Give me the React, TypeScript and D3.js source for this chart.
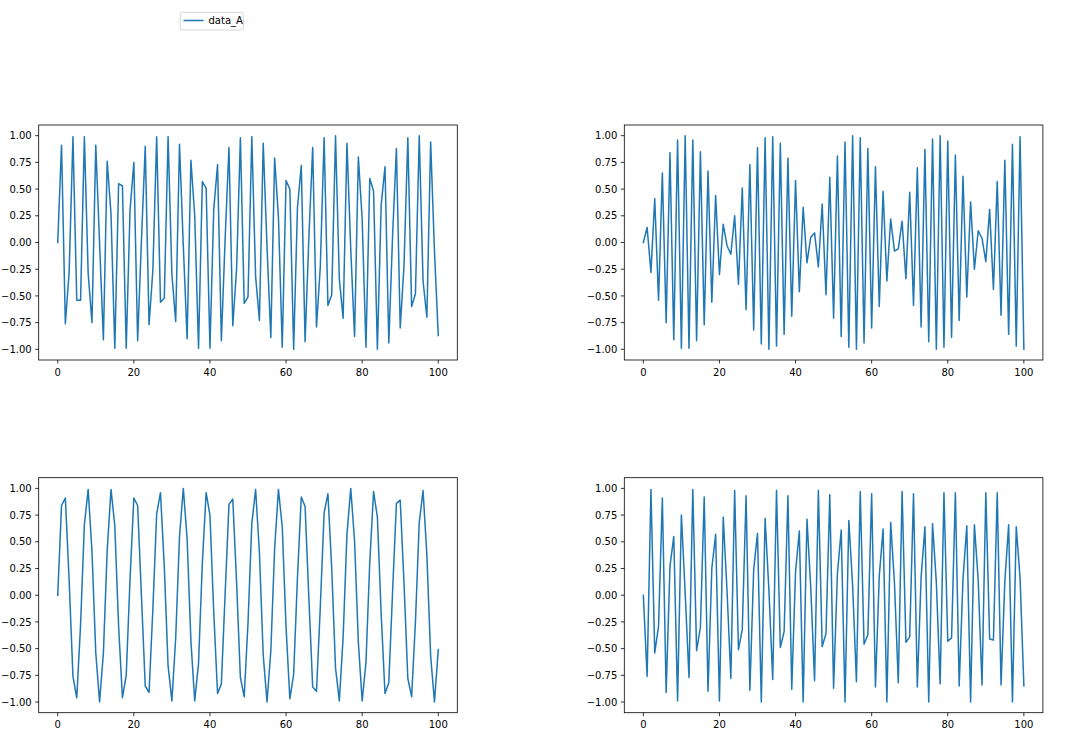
import React from "react";
import * as d3 from "d3";

// sin(2x), x = 0..100 (top-left)
const seriesA = [
  0.00, 0.91, -0.76, -0.28, 0.99, -0.54, -0.54, 0.99, -0.29, -0.75,
  0.91, -0.01, -0.91, 0.76, 0.27, -0.99, 0.55, 0.53, -0.99, 0.30,
  0.75, -0.92, 0.02, 0.90, -0.77, -0.26, 0.99, -0.56, -0.52, 0.99,
  -0.30, -0.74, 0.92, -0.03, -0.90, 0.77, 0.25, -0.99, 0.57, 0.51,
  -0.99, 0.31, 0.73, -0.92, 0.04, 0.89, -0.78, -0.25, 0.98, -0.57,
  -0.51, 0.99, -0.32, -0.73, 0.93, -0.04, -0.89, 0.79, 0.24, -0.98,
  0.58, 0.50, -1.00, 0.33, 0.72, -0.93, 0.05, 0.89, -0.79, -0.23,
  0.98, -0.59, -0.49, 1.00, -0.34, -0.71, 0.93, -0.06, -0.88, 0.80,
  0.22, -0.98, 0.60, 0.48, -1.00, 0.35, 0.71, -0.94, 0.07, 0.88,
  -0.80, -0.21, 0.98, -0.60, -0.48, 1.00, -0.36, -0.70, 0.94, -0.08,
  -0.87,
];

// sin(3x) (top-right)
const seriesB = [
  0.00, 0.14, -0.28, 0.41, -0.54, 0.65, -0.75, 0.84, -0.91, 0.96,
  -0.99, 1.00, -0.99, 0.96, -0.92, 0.85, -0.77, 0.67, -0.56, 0.44,
  -0.30, 0.17, -0.03, -0.11, 0.25, -0.39, 0.51, -0.63, 0.73, -0.82,
  0.89, -0.95, 0.98, -1.00, 0.99, -0.97, 0.93, -0.86, 0.79, -0.69,
  0.58, -0.46, 0.33, -0.19, 0.05, 0.09, -0.23, 0.36, -0.49, 0.61,
  -0.71, 0.81, -0.88, 0.94, -0.98, 1.00, -1.00, 0.98, -0.94, 0.88,
  -0.80, 0.71, -0.60, 0.48, -0.36, 0.22, -0.08, -0.06, 0.20, -0.34,
  0.47, -0.59, 0.70, -0.79, 0.87, -0.93, 0.97, -1.00, 1.00, -0.98,
  0.95, -0.89, 0.82, -0.73, 0.62, -0.51, 0.38, -0.25, 0.11, 0.04,
  -0.18, 0.31, -0.44, 0.57, -0.68, 0.77, -0.86, 0.92, -0.97, 0.99,
  -1.00,
];

// sin(x) (bottom-left)
const seriesC = [
  0.00, 0.84, 0.91, 0.14, -0.76, -0.96, -0.28, 0.66, 0.99, 0.41,
  -0.54, -1.00, -0.54, 0.42, 0.99, 0.65, -0.29, -0.96, -0.75, 0.15,
  0.91, 0.84, -0.01, -0.85, -0.91, -0.13, 0.76, 0.96, 0.27, -0.66,
  -0.99, -0.40, 0.55, 1.00, 0.53, -0.43, -0.99, -0.64, 0.30, 0.96,
  0.75, -0.16, -0.92, -0.83, 0.02, 0.85, 0.90, 0.12, -0.77, -0.95,
  -0.26, 0.67, 0.99, 0.40, -0.56, -1.00, -0.52, 0.44, 0.99, 0.64,
  -0.30, -0.97, -0.74, 0.17, 0.92, 0.83, -0.03, -0.86, -0.90, -0.11,
  0.77, 0.95, 0.25, -0.68, -0.99, -0.39, 0.57, 1.00, 0.51, -0.44,
  -0.99, -0.63, 0.31, 0.97, 0.73, -0.18, -0.92, -0.82, 0.04, 0.86,
  0.89, 0.11, -0.78, -0.95, -0.25, 0.68, 0.98, 0.38, -0.57, -1.00,
  -0.51,
];

// sin(4x) (bottom-right)
const seriesD = [
  0.00, -0.76, 0.99, -0.54, -0.29, 0.91, -0.91, 0.27, 0.55, -0.99,
  0.75, 0.02, -0.77, 0.99, -0.52, -0.30, 0.92, -0.90, 0.25, 0.57,
  -0.99, 0.73, 0.04, -0.78, 0.98, -0.51, -0.32, 0.93, -0.89, 0.24,
  0.58, -1.00, 0.72, 0.05, -0.79, 0.98, -0.49, -0.34, 0.93, -0.88,
  0.22, 0.60, -1.00, 0.71, 0.07, -0.80, 0.98, -0.48, -0.36, 0.94,
  -0.87, 0.20, 0.61, -1.00, 0.70, 0.09, -0.81, 0.97, -0.46, -0.37,
  0.95, -0.86, 0.18, 0.62, -1.00, 0.68, 0.11, -0.82, 0.97, -0.44,
  -0.39, 0.95, -0.86, 0.17, 0.64, -1.00, 0.67, 0.12, -0.83, 0.96,
  -0.43, -0.40, 0.96, -0.85, 0.15, 0.65, -1.00, 0.66, 0.14, -0.84,
  0.96, -0.41, -0.42, 0.96, -0.84, 0.13, 0.66, -1.00, 0.64, 0.16,
  -0.85,
];

const xTicks = [0, 20, 40, 60, 80, 100];
const yTicks = [-1, -0.75, -0.5, -0.25, 0, 0.25, 0.5, 0.75, 1];
const legendLabel = "data_A";

const W = 1070;
const H = 730;
const AX_W = 418.6;
const AX_H = 235;
const COLOR = "#1f77b4";
const FONT = "DejaVu Sans, sans-serif";

const panels = [
  { data: seriesA, left: 38.7, top: 125 },
  { data: seriesB, left: 624.3, top: 125 },
  { data: seriesC, left: 38.7, top: 477.7 },
  { data: seriesD, left: 624.3, top: 477.7 },
];

const fmt = (v: number) => {
  const s = Math.abs(v).toFixed(2);
  return v < 0 ? "\u2212" + s : s;
};

function Panel({ data, left, top }: { data: number[]; left: number; top: number }) {
  const x = d3.scaleLinear().domain([-5, 105]).range([left, left + AX_W]);
  const y = d3.scaleLinear().domain([-1.1, 1.1]).range([top + AX_H, top]);
  const line = d3
    .line<number>()
    .x((_, i) => x(i))
    .y((d) => y(d));
  const bottom = top + AX_H;
  return (
    <g>
      <path d={line(data) || ""} fill="none" stroke={COLOR} strokeWidth={1.5} strokeLinejoin="round" strokeLinecap="square" />
      <rect x={left} y={top} width={AX_W} height={AX_H} fill="none" stroke="#000" strokeWidth={0.8} />
      {xTicks.map((t) => (
        <g key={"x" + t}>
          <line x1={x(t)} x2={x(t)} y1={bottom} y2={bottom + 3.5} stroke="#000" strokeWidth={0.8} />
          <text x={x(t)} y={bottom + 15.5} textAnchor="middle" fontSize={10} fontFamily={FONT} fill="#000">
            {t}
          </text>
        </g>
      ))}
      {yTicks.map((t) => (
        <g key={"y" + t}>
          <line x1={left - 3.5} x2={left} y1={y(t)} y2={y(t)} stroke="#000" strokeWidth={0.8} />
          <text x={left - 7} y={y(t) + 3.6} textAnchor="end" fontSize={10} fontFamily={FONT} fill="#000">
            {fmt(t)}
          </text>
        </g>
      ))}
    </g>
  );
}

export default function App() {
  return (
    <svg
      width={W}
      height={H}
      style={{ position: "absolute", left: 0, top: 0, display: "block", background: "#fff" }}
    >
      <rect x={0} y={0} width={W} height={H} fill="#fff" />
      {panels.map((p, i) => (
        <Panel key={i} {...p} />
      ))}
      <g>
        <rect x={180.3} y={12.3} width={63} height={17.7} rx={2} fill="#fff" fillOpacity={0.8} stroke="#ccc" strokeWidth={0.8} />
        <line x1={183.5} x2={203.5} y1={20.5} y2={20.5} stroke={COLOR} strokeWidth={1.5} />
        <text x={208.5} y={24.3} fontSize={10} fontFamily={FONT} fill="#000">
          {legendLabel}
        </text>
      </g>
    </svg>
  );
}
